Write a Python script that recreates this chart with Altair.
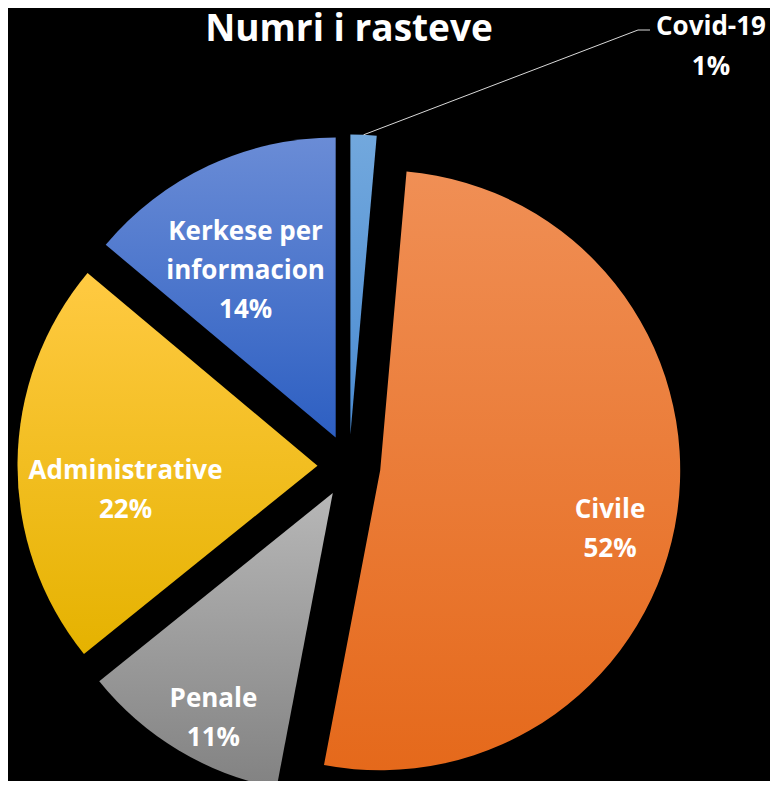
import altair as alt
import pandas as pd

# ---- data ----
categories = ["Covid-19", "Civile", "Penale", "Administrative", "Kerkese per informacion"]
values = [1.4, 51.6, 11.2, 21.9, 13.9]
title_text = "Numri i rasteve"

# ---- styling / layout ----
gradients = {
    "Covid-19": ("#72A8DD", "#4A8BD2"),
    "Civile": ("#F08F55", "#E5691B"),
    "Penale": ("#B7B7B7", "#828282"),
    "Administrative": ("#FFCA42", "#E5B200"),
    "Kerkese per informacion": ("#6A8CD6", "#2D5FC2"),
}
wrap = {"Kerkese per informacion": "Kerkese per|informacion"}
W, H = 762, 773
CX, CY = 341, 458      # pie centre (chart px)
R = 300                # radius
D = 31.5               # explosion distance
FONT = "Open Sans"
LH = 39                # label line height
LSHIFT = 27            # label downward nudge

df = pd.DataFrame({
    "cat": categories,
    "value": values,
    "order": list(range(len(categories))),
})
df["label"] = [wrap.get(c, c) for c in categories]
df["nlines"] = [len(l.split("|")) + 1 for l in df["label"]]
df["maxlen"] = [max(len(s) for s in l.split("|")) for l in df["label"]]

base = (
    alt.Chart(df)
    .transform_joinaggregate(total="sum(value)")
    .transform_window(cum="sum(value)", sort=[alt.SortField("order")], frame=[None, 0])
    .transform_calculate(
        t1="datum.cum / datum.total * 2 * PI",
        t0="(datum.cum - datum.value) / datum.total * 2 * PI",
    )
    .transform_calculate(mid="(datum.t0 + datum.t1) / 2")
    .transform_calculate(
        ax=f"{CX} + {D} * sin(datum.mid)",
        ay=f"{CY} - {D} * cos(datum.mid)",
        pct="round(datum.value / datum.total * 100) + '%'",
    )
    .transform_calculate(
        txt="split(datum.label + '|' + datum.pct, '|')",
        dist="262 - 5 * datum.maxlen + 6 * (datum.nlines - 2)",
        ox=f"datum.ax + {R} * sin(datum.mid)",
        oy=f"datum.ay - {R} * cos(datum.mid)",
    )
    .transform_calculate(
        lx="datum.ax + datum.dist * sin(datum.mid)",
        ly=f"datum.ay - datum.dist * cos(datum.mid) + {LSHIFT} - (datum.nlines - 1) / 2 * {LH}",
    )
)

layers = []
for c in categories:
    top, bot = gradients[c]
    grad = alt.LinearGradient(
        gradient="linear", x1=0, y1=0, x2=0, y2=1,
        stops=[alt.GradientStop(color=top, offset=0), alt.GradientStop(color=bot, offset=1)],
    )
    layers.append(
        base.transform_filter(alt.datum.cat == c)
        .mark_arc(radius=R, fill=grad, strokeWidth=0)
        .encode(
            theta=alt.Theta("t0:Q", scale=None),
            theta2=alt.Theta2("t1:Q"),
            x=alt.X("ax:Q", scale=None, axis=None),
            y=alt.Y("ay:Q", scale=None, axis=None),
        )
    )

inside = (
    base.transform_filter(alt.datum.cat != "Covid-19")
    .mark_text(font=FONT, fontSize=26, fontWeight="bold", color="white",
               align="center", baseline="middle", lineHeight=LH)
    .encode(
        x=alt.X("lx:Q", scale=None, axis=None),
        y=alt.Y("ly:Q", scale=None, axis=None),
        text="txt:N",
    )
)

small = base.transform_filter(alt.datum.cat == "Covid-19")
leader = small.mark_rule(color="#D9D9D9", strokeWidth=1).encode(
    x=alt.X("ox:Q", scale=None, axis=None),
    y=alt.Y("oy:Q", scale=None, axis=None),
    x2=alt.value(630),
    y2=alt.value(22),
)
leader2 = small.mark_rule(color="#D9D9D9", strokeWidth=1).encode(
    x=alt.value(630), x2=alt.value(642), y=alt.value(22)
)
small_label = small.mark_text(
    font=FONT, fontSize=26, fontWeight="bold", color="white",
    align="center", baseline="alphabetic", lineHeight=40,
).encode(x=alt.value(703), y=alt.value(27), text="txt:N")

title = alt.Chart(pd.DataFrame({"t": [title_text]})).mark_text(
    font=FONT, fontSize=37, fontWeight="bold", color="white",
    align="center", baseline="alphabetic",
).encode(x=alt.value(341), y=alt.value(33), text="t:N")

chart = (
    alt.layer(*layers, inside, leader, leader2, small_label, title)
    .properties(width=W, height=H, autosize=alt.AutoSizeParams(type="none"), padding=0,
                background="black")
    .configure_view(stroke=None)
)

chart.save("out.html", embed_options={"renderer": "svg", "actions": False})
